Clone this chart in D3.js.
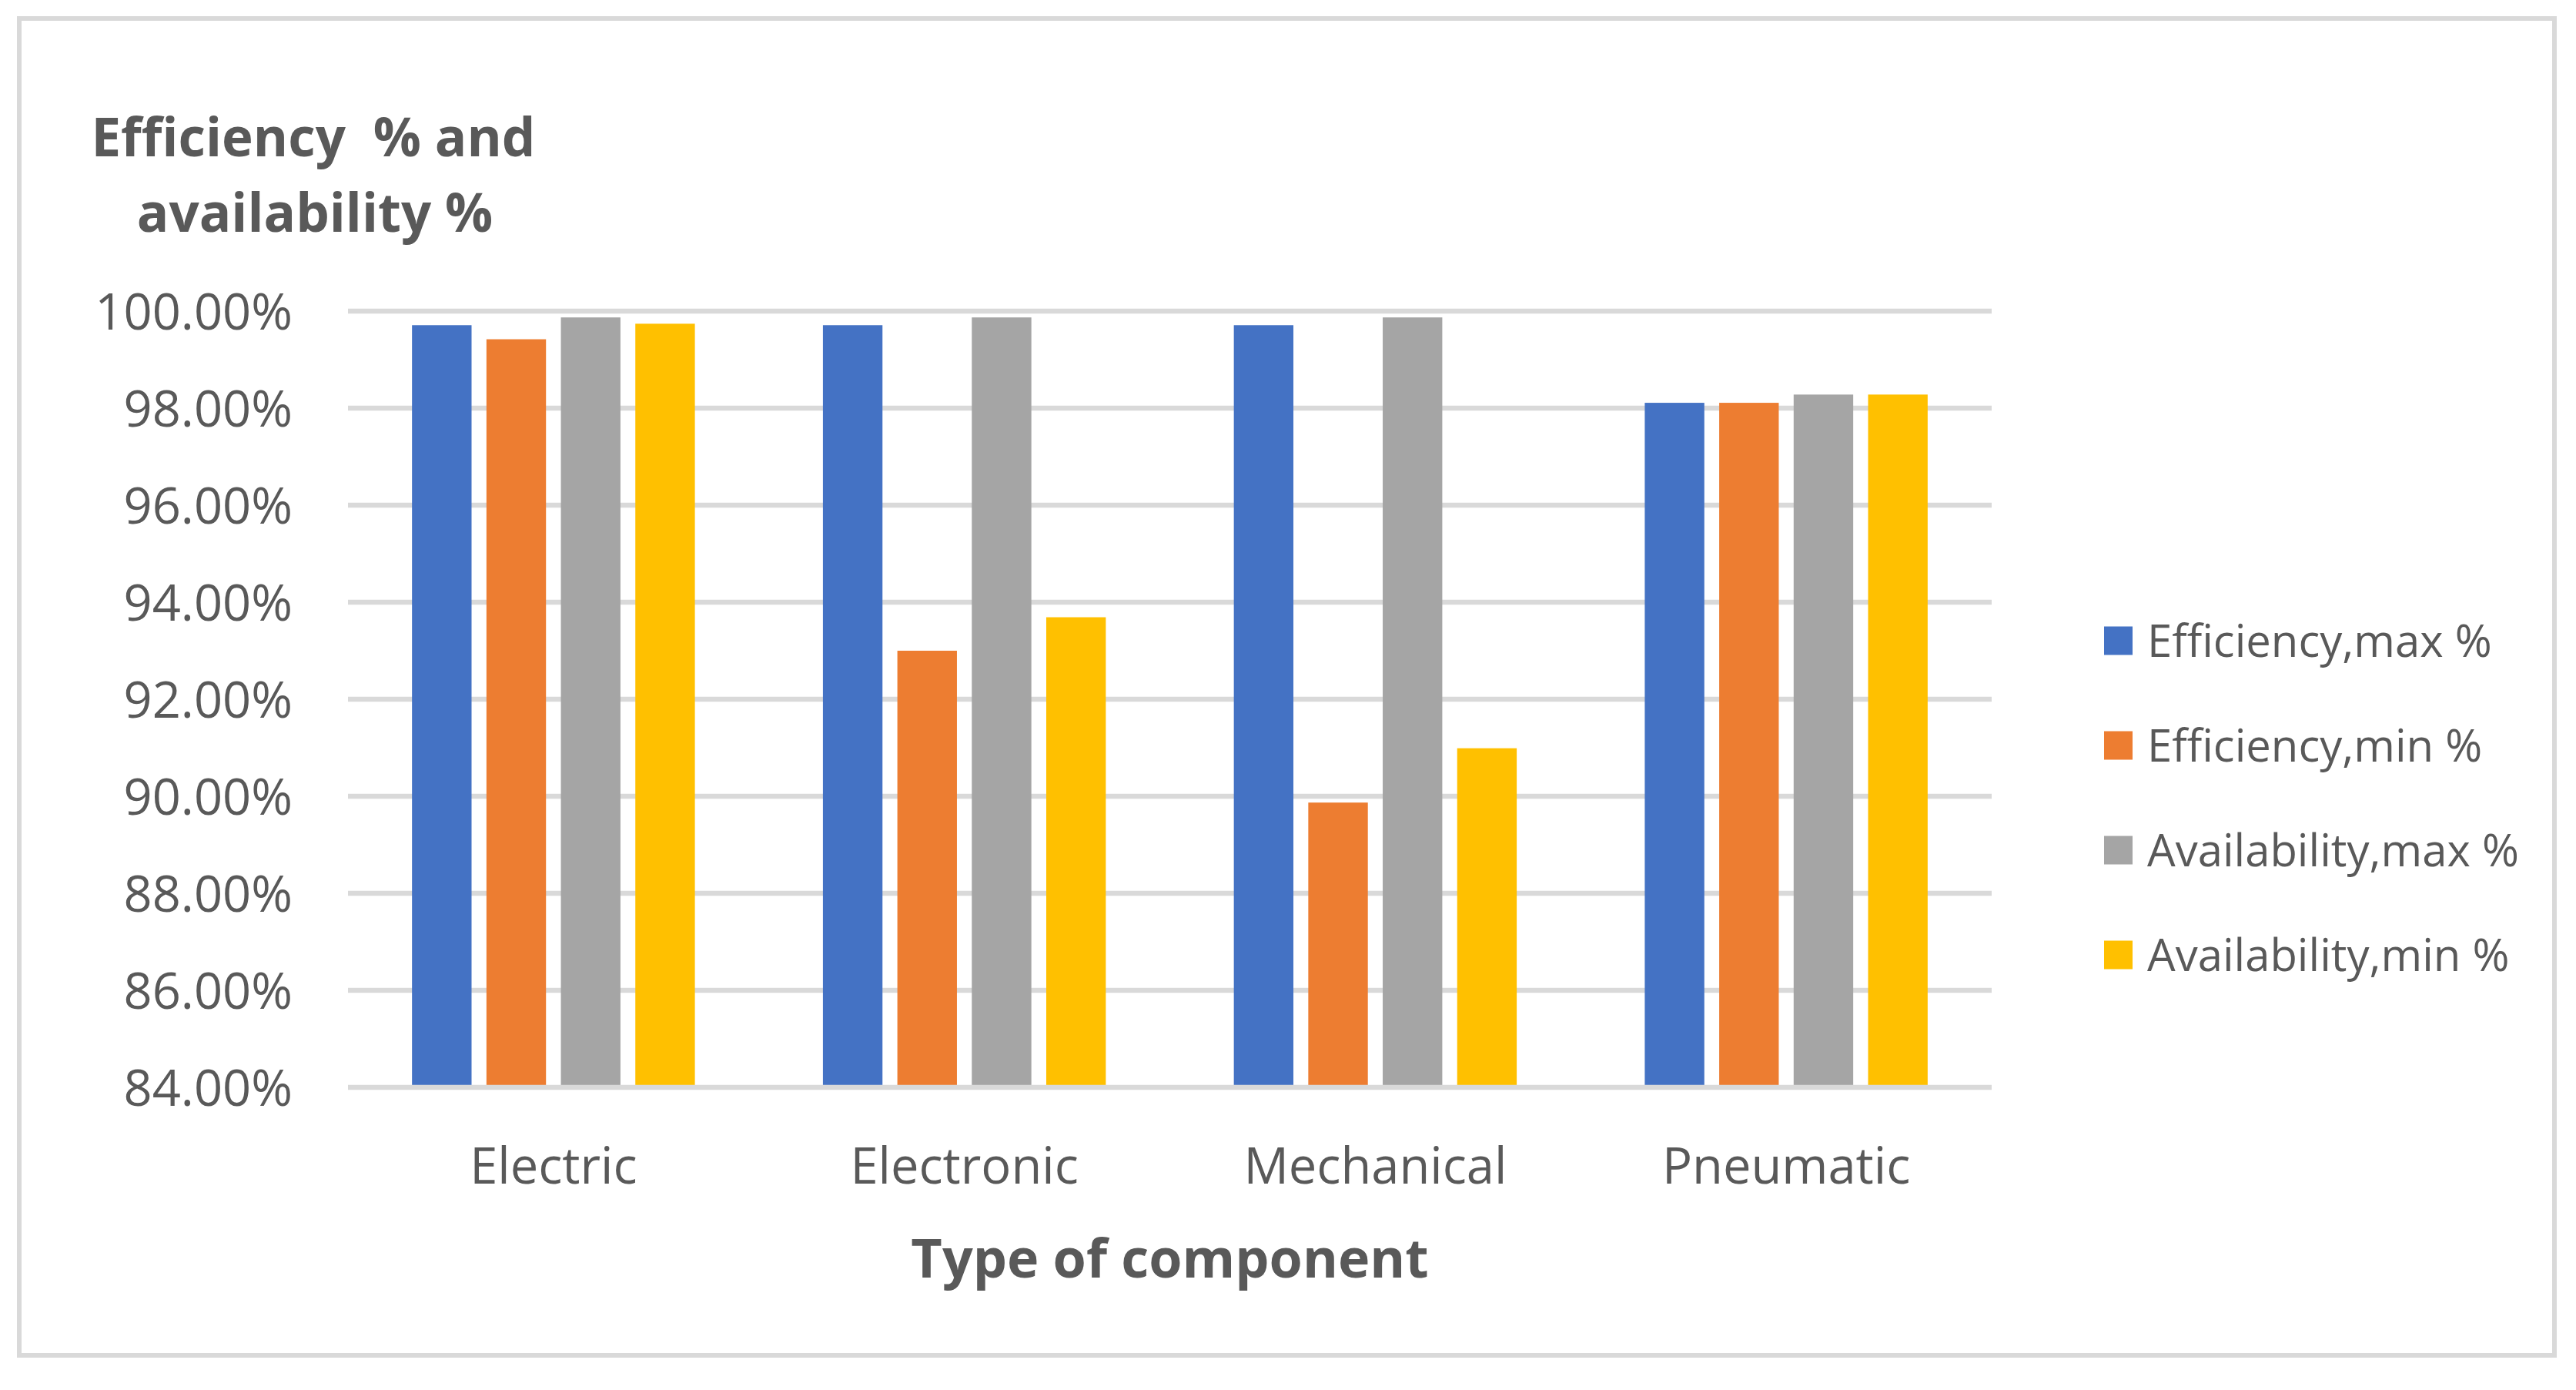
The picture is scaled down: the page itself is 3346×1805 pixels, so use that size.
<!DOCTYPE html>
<html>
<head>
<meta charset="utf-8">
<script src="https://cdn.jsdelivr.net/npm/d3@7"></script>
<style>
  body { margin: 0; background: #fff; }
  text { font-family: "Open Sans", sans-serif; fill: #595959; }
</style>
</head>
<body>
<svg id="chart" width="3346" height="1805"></svg>
<script>
// data
const categories = ["Electric", "Electronic", "Mechanical", "Pneumatic"];
const series = ["Efficiency,max %", "Efficiency,min %", "Availability,max %", "Availability,min %"];
const effMax = [0.9971, 0.9971, 0.9971, 0.9811];
const effMin = [0.9942, 0.9300, 0.8987, 0.9811];
const availMax = [0.9987, 0.9987, 0.9987, 0.9828];
const availMin = [0.9974, 0.9369, 0.9099, 0.9828];
const yTicks = [0.84, 0.86, 0.88, 0.90, 0.92, 0.94, 0.96, 0.98, 1.00];
const colors = ["#4472c4", "#ed7d31", "#a5a5a5", "#ffc000"];

const values = [effMax, effMin, availMax, availMin];

const svg = d3.select('#chart');

// outer frame
svg.append('rect')
    .attr('x', 25).attr('y', 24)
    .attr('width', 3293).attr('height', 1736)
    .attr('fill', 'none')
    .attr('stroke', '#d9d9d9')
    .attr('stroke-width', 6);

const plotLeft = 452, plotRight = 2587, plotTop = 404, plotBottom = 1412;

const x0 = d3.scaleBand()
    .domain(categories)
    .range([plotLeft, plotRight]);

const x1 = d3.scaleBand()
    .domain(series)
    .range([0, x0.bandwidth()])
    .paddingInner(0.2)
    .paddingOuter(0.86);

const y = d3.scaleLinear()
    .domain([0.84, 1.0])
    .range([plotBottom, plotTop]);

// gridlines
svg.append('g')
    .selectAll('line')
    .data(yTicks.slice(1))
    .join('line')
    .attr('x1', plotLeft).attr('x2', plotRight)
    .attr('y1', d => y(d)).attr('y2', d => y(d))
    .attr('stroke', '#d9d9d9')
    .attr('stroke-width', 6.5);

// bars
const groups = svg.append('g')
    .selectAll('g')
    .data(categories)
    .join('g')
    .attr('transform', d => `translate(${x0(d)},0)`);

groups.selectAll('rect')
    .data((c, ci) => series.map((s, si) => ({ s, si, v: values[si][ci] })))
    .join('rect')
    .attr('x', d => x1(d.s))
    .attr('y', d => y(d.v))
    .attr('width', x1.bandwidth())
    .attr('height', d => y(0.84) - y(d.v))
    .attr('fill', d => colors[d.si]);

// x axis line
svg.append('line')
    .attr('x1', plotLeft).attr('x2', plotRight)
    .attr('y1', y(0.84)).attr('y2', y(0.84))
    .attr('stroke', '#d9d9d9')
    .attr('stroke-width', 6.5);

// y axis labels
const yAxis = svg.append('g')
    .attr('transform', `translate(${plotLeft},0)`)
    .call(d3.axisLeft(y).tickValues(yTicks).tickFormat(d3.format('.2%')).tickSize(0).tickPadding(72));
yAxis.select('.domain').remove();
yAxis.selectAll('text')
    .style('font-family', '"Open Sans", sans-serif')
    .style('font-size', '65px')
    .attr('fill', '#595959')
    .attr('dy', '0.36em');

// x axis labels
const xAxis = svg.append('g')
    .attr('transform', `translate(0,${plotBottom})`)
    .call(d3.axisBottom(x0).tickSize(0));
xAxis.select('.domain').remove();
xAxis.selectAll('text')
    .style('font-family', '"Open Sans", sans-serif')
    .style('font-size', '65px')
    .attr('fill', '#595959')
    .attr('y', 125)
    .attr('dy', 0);

// axis titles
const yTitle = svg.append('text')
    .attr('text-anchor', 'middle')
    .style('font-size', '69px')
    .style('font-weight', 'bold');
yTitle.append('tspan').attr('x', 407).attr('y', 203).attr('xml:space', 'preserve').text('Efficiency  % and');
yTitle.append('tspan').attr('x', 409).attr('y', 301).text('availability %');

svg.append('text')
    .attr('x', (plotLeft + plotRight) / 2)
    .attr('y', 1659)
    .attr('text-anchor', 'middle')
    .style('font-size', '70px')
    .style('font-weight', 'bold')
    .text('Type of component');

// legend
const legend = svg.append('g')
    .selectAll('g')
    .data(series)
    .join('g')
    .attr('transform', (d, i) => `translate(2733,${832 + i * 136})`);

legend.append('rect')
    .attr('x', 0).attr('y', -18.5)
    .attr('width', 37).attr('height', 37)
    .attr('fill', (d, i) => colors[i]);

legend.append('text')
    .attr('x', 56)
    .attr('y', 0)
    .attr('dy', '0.36em')
    .style('font-size', '58px')
    .text(d => d);
</script>
</body>
</html>
